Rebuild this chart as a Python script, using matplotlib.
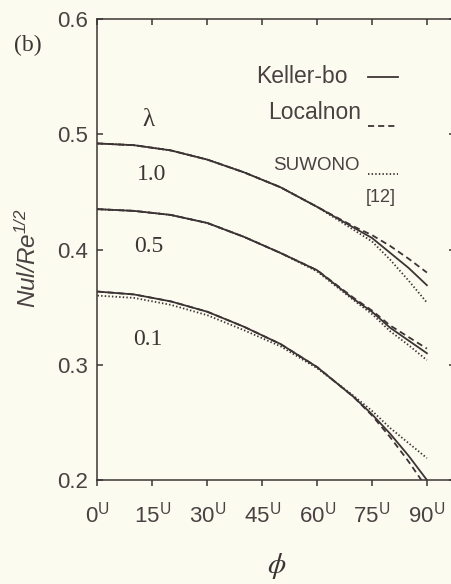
import matplotlib
matplotlib.use("Agg")
import matplotlib.pyplot as plt
import numpy as np

# angle phi (deg) and Nu/Re^1/2
phi = [0, 10, 20, 30, 40, 50, 60, 70, 75, 80, 85, 90]

keller = {
    "1.0": [0.492, 0.4905, 0.486, 0.478, 0.467, 0.454, 0.437, 0.419, 0.410, 0.397, 0.384, 0.369],
    "0.5": [0.435, 0.4335, 0.430, 0.423, 0.411, 0.397, 0.382, 0.357, 0.346, 0.332, 0.321, 0.310],
    "0.1": [0.3635, 0.361, 0.355, 0.346, 0.333, 0.318, 0.298, 0.272, 0.257, 0.240, 0.221, 0.200],
}
localnon = {
    "1.0": [0.492, 0.4905, 0.486, 0.478, 0.467, 0.454, 0.437, 0.420, 0.4125, 0.403, 0.392, 0.380],
    "0.5": [0.435, 0.4335, 0.430, 0.423, 0.411, 0.397, 0.382, 0.358, 0.347, 0.334, 0.324, 0.314],
    "0.1": [0.3635, 0.361, 0.355, 0.346, 0.333, 0.318, 0.298, 0.272, 0.256, 0.237, 0.216, 0.193],
}
suwono = {
    "1.0": [0.492, 0.4905, 0.486, 0.478, 0.467, 0.454, 0.437, 0.417, 0.407, 0.391, 0.373, 0.354],
    "0.5": [0.435, 0.4335, 0.430, 0.423, 0.411, 0.397, 0.381, 0.356, 0.344, 0.329, 0.317, 0.304],
    "0.1": [0.360, 0.358, 0.352, 0.343, 0.330, 0.316, 0.297, 0.273, 0.260, 0.245, 0.232, 0.219],
}
lambdas = ["1.0", "0.5", "0.1"]
label_pos = {"1.0": (14.9, 0.4655), "0.5": (14.0, 0.403), "0.1": (13.8, 0.322)}

x_ticks = [0, 15, 30, 45, 60, 75, 90]
y_ticks = [0.2, 0.3, 0.4, 0.5, 0.6]

BG = "#fbfbef"
INK = "#3d3535"
TXT = "#4a4242"

plt.rcParams["mathtext.fontset"] = "stix"
sans = "Liberation Sans"
serif = "Liberation Serif"

fig = plt.figure(figsize=(4.52, 5.84), dpi=100, facecolor=BG)
ax = fig.add_axes([97.5 / 452, 104 / 584, 1.006 - 97.5 / 452, (480 - 19) / 584])
ax.set_facecolor(BG)

DASH = (0, (3.4, 2.2))
DOT = (0, (0.8, 1.2))
styles = [(keller, "-"), (localnon, DASH), (suwono, DOT)]
for lam in lambdas:
    for data, ls in styles:
        ax.plot(phi, data[lam], color=INK, lw=1.3, ls=ls)
    ax.text(*label_pos[lam], lam, family=serif, fontsize=17, color=INK,
            ha="center", va="center")
ax.text(13.8, 0.512, "λ", family=serif, fontsize=18, color=INK, ha="center", va="center")

# hand-drawn style key
def key(y_text, y_line, name, ls, size, x_right):
    ax.text(x_right, y_text, name, family=sans, fontsize=size, color=TXT,
            ha="right", va="center")
    ax.plot([74.0, 82.0], [y_line, y_line], color=INK, lw=1.3, ls=ls, clip_on=False)

key(0.5497, 0.5497, "Keller-bo", "-", 16.5, 68.3)
key(0.5186, 0.507, "Localnon", DASH, 16.5, 72.1)
key(0.4725, 0.4655, "SUWONO", DOT, 13.5, 71.6)
ax.text(77.3, 0.4455, "[12]", family=sans, fontsize=13, color=TXT, ha="center", va="center")

ax.set_xlim(0, 97.6)
ax.set_ylim(0.2, 0.6)
ax.set_xticks(x_ticks)
ax.set_xticklabels([f"{t}" + r"$^{\mathregular{U}}$" for t in x_ticks])
ax.set_yticks(y_ticks)
ax.set_yticklabels([f"{t:.1f}" for t in y_ticks])
for lbl in ax.get_xticklabels() + ax.get_yticklabels():
    lbl.set_family(sans)
    lbl.set_fontsize(16)
    lbl.set_color(TXT)

ax.tick_params(axis="x", direction="out", length=4, width=1.1, color=INK, pad=12)
ax.tick_params(axis="y", direction="in", length=4, width=1.1, color=INK, pad=7,
               left=True, right=True)
top = ax.secondary_xaxis("top")
top.set_xticks(x_ticks)
top.set_xticklabels([])
top.tick_params(direction="in", length=4, width=1.1, color=INK)
top.spines["top"].set_visible(False)

for s in ax.spines.values():
    s.set_color(INK)
    s.set_linewidth(1.1)

fig.text(28 / 452, 1 - 258 / 584, r"Nul/Re$^{\mathregular{1/2}}$", family=sans,
         style="italic", fontsize=17.5, color=TXT, rotation=90,
         ha="center", va="center")
fig.text(277 / 452, 1 - 566 / 584, r"$\phi$", fontsize=21, color=INK,
         ha="center", va="center")
fig.text(28 / 452, 1 - 45 / 584, "(b)", family=serif, fontsize=17, color=INK,
         ha="center", va="center")

fig.savefig("out.png", dpi=100, facecolor=BG)
